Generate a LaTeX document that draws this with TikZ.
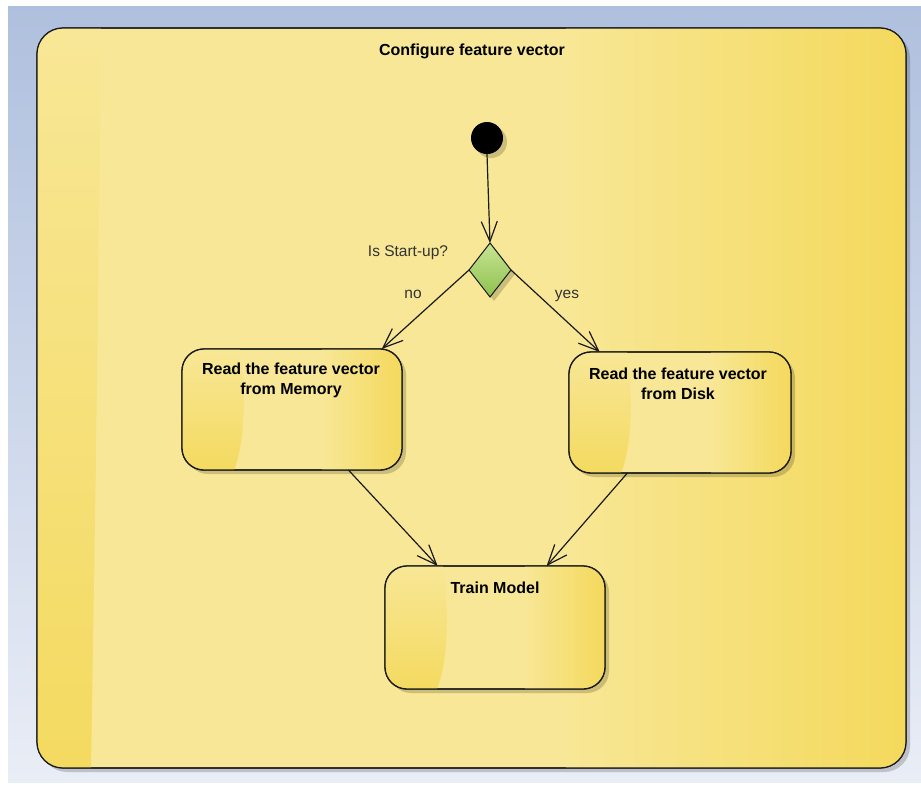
\documentclass[tikz,border=0pt]{standalone}
\usepackage{fontspec}
\setmainfont{Liberation Sans}
\usetikzlibrary{shapes.geometric,arrows.meta,shadows,calc}

\definecolor{bgTop}{HTML}{AFC0DE}
\definecolor{bgBot}{HTML}{E9EDF6}
\definecolor{ylwL}{HTML}{F8E796}
\definecolor{ylwR}{HTML}{F4D95C}
\definecolor{ylwD}{HTML}{F4DA60}
\definecolor{grnT}{HTML}{C8E494}
\definecolor{grnB}{HTML}{8DC14E}
\definecolor{edge}{HTML}{1A1A1A}

% glossy yellow finish of an action box: darker right band and a darker
% curved patch in the lower left corner, then the outline on top
\newcommand\glossaction[1]{%
  \begin{scope}
    \clip[rounded corners=22pt] (#1.north west) rectangle (#1.south east);
    \shade[left color=ylwL, right color=ylwR]
      ($(#1.north east)+(-80,0)$) rectangle (#1.south east);
    \shade[top color=ylwL, bottom color=ylwD]
      (#1.north west) -- ($(#1.north west)+(58,0)$)
      .. controls ($(#1.west)+(66,0)$) and ($(#1.south west)+(60,-20)$) ..
      ($(#1.south west)+(52,0)$) -- (#1.south west) -- cycle;
  \end{scope}
  \draw[draw=edge, line width=1.3pt, rounded corners=22pt]
    (#1.north west) rectangle (#1.south east);
}

\begin{document}
\begin{tikzpicture}[x=1pt,y=-1pt,
  softshadow/.style={drop shadow={shadow xshift=4pt,shadow yshift=-4pt,opacity=0.18,fill=black}},
  frame/.style={draw=edge, line width=1.2pt, rounded corners=26pt, fill=ylwL,
    minimum width=869pt, minimum height=740pt, inner sep=0pt, outer sep=0pt, softshadow},
  stbox/.style={draw=edge, line width=1.3pt, rounded corners=22pt, fill=ylwL,
    minimum width=220pt, minimum height=121pt, inner sep=0pt, outer sep=0pt, softshadow},
  decision/.style={diamond, draw=edge, line width=1pt, top color=grnT, bottom color=grnB,
    minimum width=42pt, minimum height=54pt, inner sep=0pt, outer sep=0pt, softshadow},
  initial/.style={circle, fill=black, minimum size=32pt, inner sep=0pt, softshadow},
  flow/.style={draw=edge, line width=1.2pt,
    -{Straight Barb[length=20pt,width=16pt,line width=1.2pt]}},
  boxtext/.style={font=\bfseries\fontsize{16}{20}\selectfont, align=center, inner sep=0pt},
  lbl/.style={font=\fontsize{15.5}{18}\selectfont, text=black!80, inner sep=0pt, anchor=base}
]
\useasboundingbox (0,0) rectangle (921,785);

% window background
\fill[white] (0,0) rectangle (921,785);
\shade[top color=bgTop, bottom color=bgBot] (8,6) rectangle (921,782);

% composite activity frame with its glossy finish
\node[frame] (cfg) at (471.5,398) {};
\begin{scope}
  \clip[rounded corners=26pt] (cfg.north west) rectangle (cfg.south east);
  \shade[left color=ylwL, right color=ylwR]
    ($(cfg.north east)+(-340,0)$) rectangle (cfg.south east);
  \shade[top color=ylwL, bottom color=ylwD]
    (cfg.north west) -- ($(cfg.north west)+(64,0)$)
    .. controls ($(cfg.west)+(60,0)$) .. ($(cfg.south west)+(54,0)$)
    -- (cfg.south west) -- cycle;
\end{scope}
\draw[draw=edge, line width=1.2pt, rounded corners=26pt] (cfg.north west) rectangle (cfg.south east);
\node[boxtext, anchor=base] (cfgtitle) at (472,55) {Configure feature vector};

% initial node and decision
\node[initial] (init) at (487,138) {};
\node[decision] (dec) at (490,270) {};
\node[lbl] (question) at (408,256) {Is Start-up?};

% actions
\node[stbox] (mem) at (292,409.5) {};
\glossaction{mem}
\node[boxtext, anchor=north] (memtext) at (291,363) {Read the feature vector\\from Memory};

\node[stbox, minimum width=222pt] (disk) at (680,412.5) {};
\glossaction{disk}
\node[boxtext, anchor=north] (disktext) at (678,368) {Read the feature vector\\from Disk};

\node[stbox, minimum height=123pt] (train) at (495,627.5) {};
\glossaction{train}
\node[boxtext, anchor=base] (traintext) at (495,593) {Train Model};

% control flows
\draw[flow] (init.south) -- (dec.north);
\draw[flow] (dec.west) -- (mem.34);
\draw[flow] (dec.east) -- (disk.143.6);
\draw[flow] (mem.-47.2) -- (train.133.8);
\draw[flow] (disk.-131.7) -- (train.50.3);

% guards
\node[lbl] (guardno) at (413,298) {no};
\node[lbl] (guardyes) at (567,298) {yes};
\end{tikzpicture}
\end{document}
